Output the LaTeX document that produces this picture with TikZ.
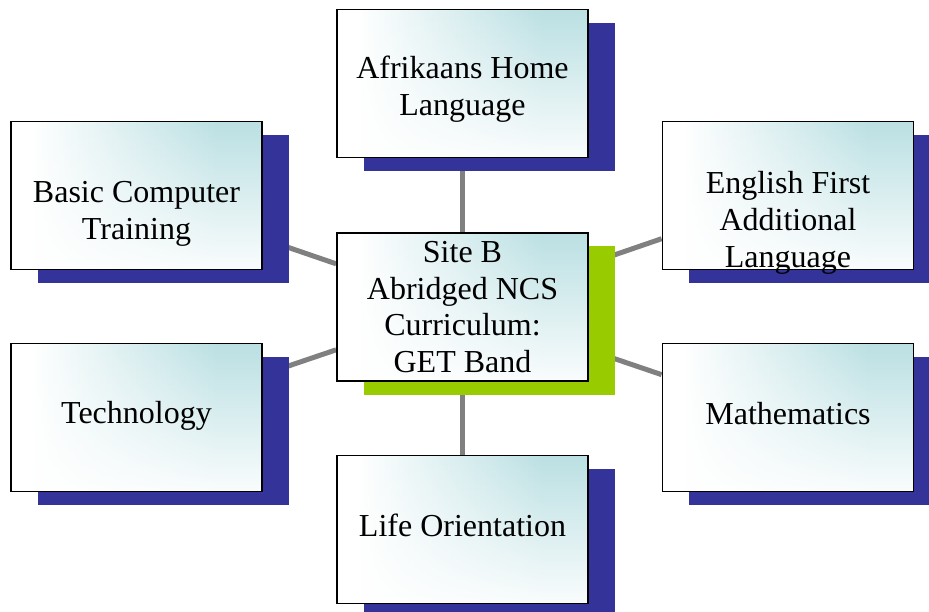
\documentclass[tikz,border=0pt]{standalone}
\usepackage{fontspec}
\setmainfont{Liberation Serif}
\usetikzlibrary{shadows,backgrounds,fadings}
\definecolor{shteal}{RGB}{187,224,227}
\definecolor{shadowblue}{RGB}{51,51,153}
\definecolor{shadowgreen}{RGB}{153,204,0}
\definecolor{conngray}{RGB}{128,128,128}
\pgfdeclarehorizontalshading{boxshade}{100bp}{color(0bp)=(white); color(29bp)=(white); color(66bp)=(shteal); color(100bp)=(shteal)}
\tikzfading[name=botfade, top color=transparent!100, middle color=transparent!78, bottom color=transparent!8]
\tikzset{
  box/.style={draw=black, line width=1.8pt, minimum width=251pt, minimum height=148pt,
    inner sep=0pt, shade, shading=boxshade,
    path picture={\fill[white, path fading=botfade] (path picture bounding box.south west) rectangle (path picture bounding box.north east);},
    general shadow={fill=shadowblue, shadow xshift=26.5pt, shadow yshift=-13.5pt, draw=none}},
  greenbox/.style={box, general shadow={fill=shadowgreen, shadow xshift=26.5pt, shadow yshift=-13.5pt, draw=none}},
  txt/.style={anchor=north, inner sep=0pt, align=center, text=black,
    font=\fontsize{32}{36.8}\selectfont},
  conn/.style={draw=conngray, line width=5pt}
}
\begin{document}
\begin{tikzpicture}[x=1pt,y=-1pt]
\useasboundingbox (0,0) rectangle (929,612);
% boxes
\node[box] (top) at (462.5,83.5) {};
\node[box] (lt) at (136.5,195.5) {};
\node[box] (rt) at (788,195.5) {};
\node[box] (lb) at (136.5,417.5) {};
\node[box] (rb) at (788,417.5) {};
\node[box] (bot) at (462.5,529.5) {};
\node[greenbox] (c) at (462.5,307) {};
% connectors
\begin{scope}[on background layer]
\draw[conn] (c) -- (top);
\draw[conn] (c) -- (bot);
\draw[conn] (c) -- (lt);
\draw[conn] (c) -- (lb);
\draw[conn] (c) -- (rt);
\draw[conn] (c) -- (rb);
\end{scope}
% texts
\node[txt] (ttop) at (462.5,56) {Afrikaans Home\\Language};
\node[txt] (tc) at (462.5,241) {Site B\\Abridged NCS\\Curriculum:\\GET Band};
\node[txt] (tlt) at (136.5,181) {Basic Computer\\Training};
\node[txt] (trt) at (788,171) {English First\\Additional\\Language};
\node[txt] (tlb) at (136.5,401.5) {Technology};
\node[txt] (trb) at (788,402) {Mathematics};
\node[txt] (tbot) at (462.5,514) {Life Orientation};
\end{tikzpicture}
\end{document}
